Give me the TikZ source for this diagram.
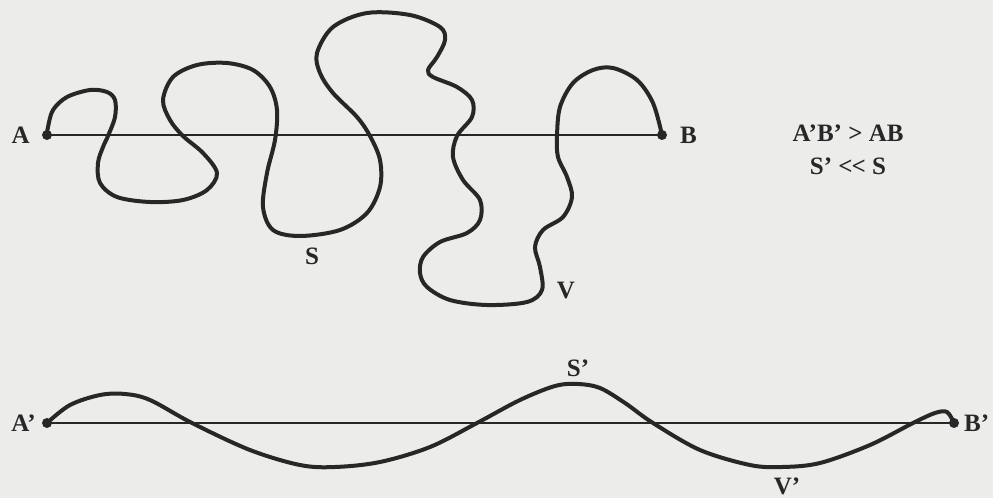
\documentclass[tikz,border=0pt]{standalone}
\usepackage{fontspec}
\setmainfont{Liberation Serif}
\definecolor{paper}{RGB}{236,236,234}
\definecolor{ink}{RGB}{40,38,38}
\tikzset{
  lbl/.style={font=\fontsize{25}{28}\selectfont\bfseries, text=ink, inner sep=0pt},
  dot/.style={circle, fill=ink, inner sep=0pt, minimum size=10pt},
  baseline/.style={draw=ink, line width=1.8pt},
  wiggle/.style={draw=ink, line width=4pt, line cap=round, line join=round},
}
\begin{document}
\begin{tikzpicture}[x=1pt,y=-1pt]
\fill[paper] (0,0) rectangle (993,498);
\useasboundingbox (0,0) rectangle (993,498);
% top figure
\node[dot] (A) at (47,135) {};
\node[dot] (B) at (662,135) {};
\draw[baseline] (A.center) -- (B.center);
\draw[wiggle] plot[smooth, tension=0.55] coordinates {
(47,135) (48,127) (53,110) (67,97) (90,90) (107,92) (115,100) (115,117) (108,136)
(103,147) (98,163) (100,183) (117,197) (150,202) (183,200) (207,190) (217,173)
(203,153) (183,136) (170,120) (163,100) (173,77) (197,65) (227,63) (253,70)
(270,87) (277,110) (275,140) (267,173) (263,207) (273,230) (300,236) (340,230)
(367,213) (380,187) (380,160) (370,136) (357,117) (333,93) (320,73) (317,53)
(333,27) (367,13) (410,15) (440,27) (445,40) (437,57) (428,70) (433,77)
(457,87) (472,100) (472,117) (457,136) (453,157) (463,180) (480,200) (480,220)
(467,233) (440,242) (423,257) (420,273) (427,287) (450,300) (487,305) (527,302)
(542,290) (540,267) (535,247) (543,230) (563,217) (572,197) (567,177) (558,157)
(557,136) (560,107) (573,83) (593,70) (613,68) (637,80) (653,103) (662,135)};
\node[lbl, anchor=east] (la) at (30,135) {A};
\node[lbl, anchor=west] (lb) at (680,135) {B};
\node[lbl] (ls) at (312,256) {S};
\node[lbl] (lv) at (566,290) {V};
\node[lbl] (eq1) at (848,133) {A’B’ > AB};
\node[lbl] (eq2) at (848,166) {S’ <\kern-1pt< S};
% bottom figure
\node[dot] (A2) at (47,423) {};
\node[dot] (B2) at (954,423) {};
\draw[baseline] (A2.center) -- (B2.center);
\draw[wiggle] plot[smooth, tension=0.55] coordinates {
(47,423) (70,405) (100,395) (125,394) (150,400) (192,423) (250,450) (300,465)
(335,467) (380,462) (430,447) (477,423) (520,400) (555,386) (578,384) (600,388)
(625,403) (653,423) (700,450) (750,465) (782,467) (820,463) (870,445) (913,423)
(935,413) (947,412) (954,423)};
\node[lbl, anchor=east] (la2) at (36,423) {A’};
\node[lbl, anchor=west] (lb2) at (964,423) {B’};
\node[lbl] (ls2) at (578,368) {S’};
\node[lbl] (lv2) at (787,486) {V’};
\end{tikzpicture}
\end{document}
